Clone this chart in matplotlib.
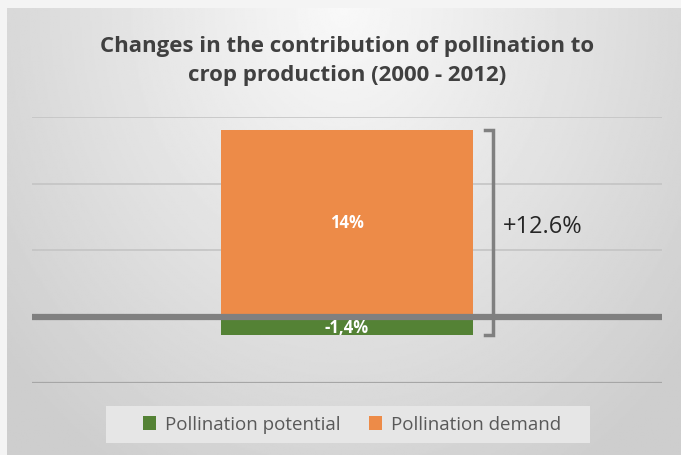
import numpy as np
import matplotlib.pyplot as plt
from matplotlib.patches import Rectangle

# data
categories = ['Pollination potential', 'Pollination demand']
values = [-1.4, 14.0]
value_labels = ['-1,4%', '14%']
colors = ['#548235', '#ED8B48']
net_label = '+12.6%'
title = 'Changes in the contribution of pollination to\ncrop production (2000 - 2012)'

W, H = 681, 455
fig = plt.figure(figsize=(W / 100, H / 100), dpi=100)
fig.patch.set_facecolor('#f4f4f4')

# gradient background panel
bg = fig.add_axes([7 / W, 0, 1 - 7 / W, 1 - 8 / H], zorder=0)
gx, gy = np.meshgrid(np.linspace(-1, 1, 400), np.linspace(0, 1, 300))
r = np.sqrt((gx / 1.1) ** 2 + (gy / 1.0) ** 2)
shade = 0.975 - 0.14 * np.clip(r, 0, 1.2)
bg.imshow(shade, cmap='gray', vmin=0, vmax=1, aspect='auto', extent=[0, 1, 0, 1])
bg.set_axis_off()

ax = fig.add_axes([32 / W, 1 - 383 / H, 630 / W, 266 / H], zorder=1)
ax.patch.set_alpha(0)
ax.set_xlim(-0.5, 0.5)
ax.set_ylim(-5, 15)

for yv in [5, 10, 15]:
    ax.axhline(yv, color='#c4c4c4', lw=1.2, zorder=1)
ax.axhline(-5, color='#a6a6a6', lw=1.6, zorder=1)

bw = 0.4
for cat, v, lab, c in zip(categories, values, value_labels, colors):
    ax.bar(0, v, width=bw, color=c, label=cat, zorder=2)
    ax.text(0, v / 2 - (0.15 if v < 0 else 0), lab, ha='center', va='center', color='white',
            fontsize=12, fontweight='bold', family='Open Sans', zorder=4)

ax.axhline(0, color='#808080', lw=4.5, zorder=3)

# bracket for net change
bx, tx = 0.232, 0.219
top, bot = values[1], values[0]
ax.plot([tx, bx, bx, tx], [top, top, bot, bot], color='#808080', lw=2.5,
        solid_joinstyle='miter', clip_on=False, zorder=5)
ax.text(0.248, sum(values) / 2 + 0.4, net_label, ha='left', va='center', fontsize=17,
        color='#262626', family='Open Sans')

for s in ax.spines.values():
    s.set_visible(False)
ax.set_xticks([])
ax.set_yticks([])

fig.text(347 / W, 1 - 61 / H, title, ha='center', va='center', fontsize=16,
         fontweight='bold', color='#404040', family='Open Sans', linespacing=1.45)

# legend box
fig.patches.append(Rectangle((106 / W, 1 - 443 / H), 484 / W, 37 / H,
                             transform=fig.transFigure, facecolor='#e6e6e6',
                             edgecolor='none', zorder=1))
leg = fig.legend(loc='center', bbox_to_anchor=(352 / W, 1 - 424.5 / H), ncol=2,
                 frameon=False, fontsize=13.5, handlelength=0.7, handleheight=0.7,
                 columnspacing=1.5, handletextpad=0.5)
leg.set_zorder(3)
for t in leg.get_texts():
    t.set_color('#595959')
    t.set_family('Open Sans')

fig.savefig('out.png', dpi=100, facecolor=fig.get_facecolor())
